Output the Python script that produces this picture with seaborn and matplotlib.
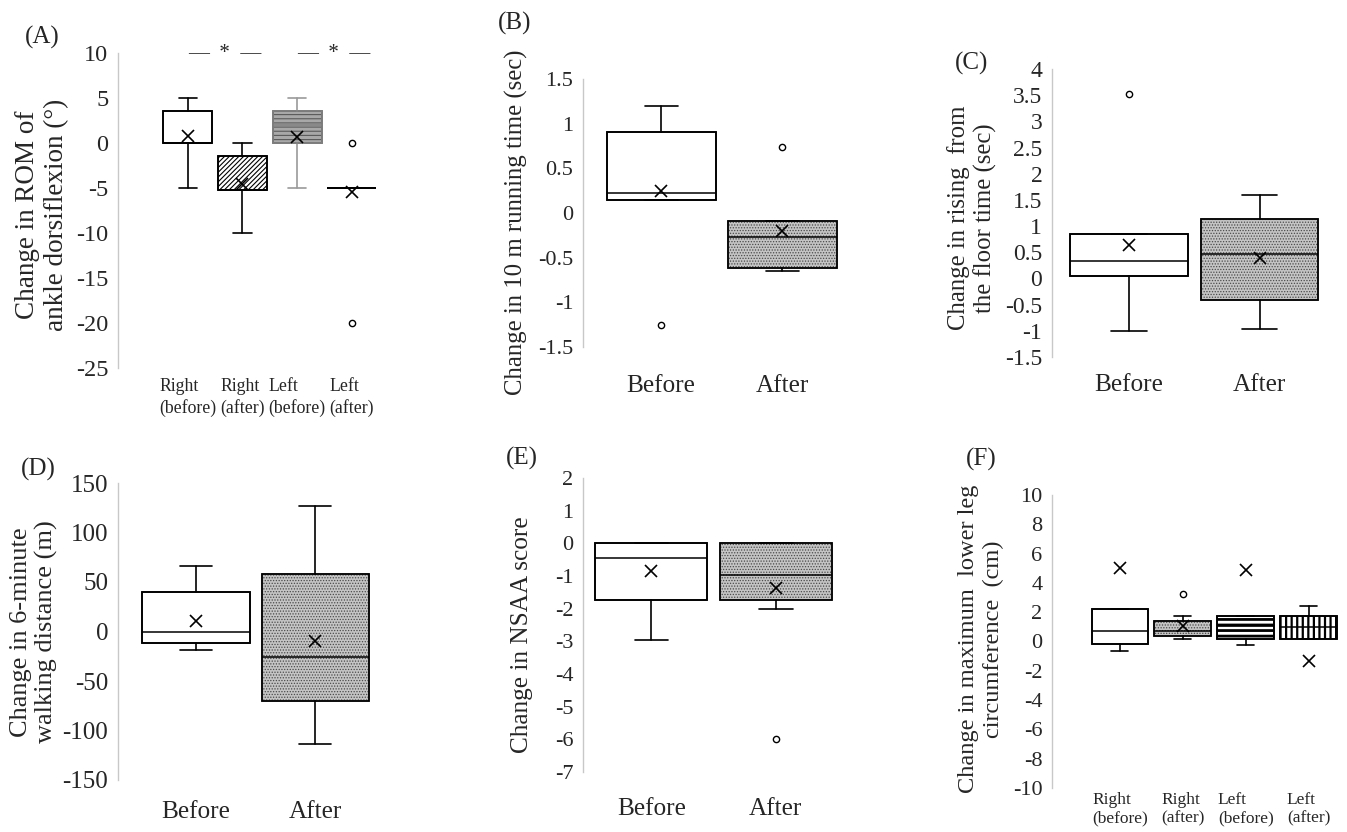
"""
Box plots of change in motor function before / after (panels A-F)
"""
import matplotlib
matplotlib.use('Agg')
import matplotlib.pyplot as plt
import seaborn as sns
import numpy as np
from matplotlib.patches import PathPatch

# ---------------- data ----------------
side_groups = ['Right\n(before)', 'Right\n(after)', 'Left\n(before)', 'Left\n(after)']
period_groups = ['Before', 'After']

# (A) ROM of ankle dorsiflexion
a_whislo = [-5, -10, -5, -5]
a_q1 = [0, -5.2, 0, -5]
a_med = [0, -5.2, 2.0, -5]
a_q3 = [3.6, -1.4, 3.6, -5]
a_whishi = [5, 0, 5, -5]
a_mean = [0.8, -4.6, 0.7, -5.4]
a_fliers = [[], [], [], [0, -20]]

# (B) 10 m running time
b_whislo = [0.14, -0.65]
b_q1 = [0.14, -0.62]
b_med = [0.22, -0.27]
b_q3 = [0.91, -0.09]
b_whishi = [1.2, -0.09]
b_mean = [0.25, -0.2]
b_fliers = [[-1.25], [0.74]]

# (C) rising from the floor time
c_whislo = [-1.0, -0.97]
c_q1 = [0.04, -0.41]
c_med = [0.34, 0.47]
c_q3 = [0.85, 1.14]
c_whishi = [0.85, 1.6]
c_mean = [0.63, 0.39]
c_fliers = [[3.52], []]

# (D) 6-minute walking distance
d_whislo = [-19, -114]
d_q1 = [-12, -70]
d_med = [0, -26]
d_q3 = [40, 58]
d_whishi = [66, 127]
d_mean = [11, -10]
d_fliers = [[], []]

# (E) NSAA score
e_whislo = [-2.95, -2.0]
e_q1 = [-1.72, -1.72]
e_med = [-0.45, -0.97]
e_q3 = [0, 0]
e_whishi = [0, 0]
e_mean = [-0.85, -1.36]
e_fliers = [[], [-6.0]]

# (F) maximum lower leg circumference
f_whislo = [-0.65, 0.17, -0.25, 0.2]
f_q1 = [-0.15, 0.4, 0.2, 0.2]
f_med = [0.75, 0.72, 1.05, 1.0]
f_q3 = [2.25, 1.4, 1.75, 1.75]
f_whishi = [2.25, 1.75, 1.75, 2.45]
f_mean = [5.0, 1.05, 4.9, -1.35]
f_fliers = [[], [3.25], [], []]

# y axis ranges (min, max, step)
a_yaxis = (-25, 10, 5)
b_yaxis = (-1.5, 1.5, 0.5)
c_yaxis = (-1.5, 4, 0.5)
d_yaxis = (-150, 150, 50)
e_yaxis = (-7, 2, 1)
f_yaxis = (-10, 10, 2)

a_label = 'Change in ROM of\nankle dorsiflexion (°)'
b_label = 'Change in 10 m running time (sec)'
c_label = 'Change in rising  from\nthe floor time (sec)'
d_label = 'Change in 6-minute\nwalking distance (m)'
e_label = 'Change in NSAA score'
f_label = 'Change in maximum  lower leg\ncircumference  (cm)'

# ---------------- styling ----------------
sns.set_style('white')
plt.rcParams['font.family'] = ['Liberation Serif', 'DejaVu Serif']
plt.rcParams['hatch.linewidth'] = 0.8

W, H = 1347, 832
PLAIN = dict(fc='white', hatch=None, hc='black', ec='black', wc='black')
DOTS = dict(fc='#c4c4c4', hatch='......', hc='#4a4a4a', ec='black', wc='black', hlw=0.6)
DIAG = dict(fc='white', hatch='///////', hc='black', ec='black', wc='black')
GREY_STRIPES = dict(fc='#a8a8a8', hatch='----', hc='#5a5a5a', ec='#808080', wc='#9a9a9a')
BLACK_HLINES = dict(fc='white', hatch='---', hc='black', ec='black', wc='black', hlw=2.0)
BLACK_VLINES = dict(fc='white', hatch='|||', hc='black', ec='black', wc='black', hlw=1.6)


def px_axes(fig, left, top, right, bottom):
    return fig.add_axes([left / W, 1 - bottom / H, (right - left) / W, (bottom - top) / H])


def draw_panel(ax, groups, whislo, q1, med, q3, whishi, mean, fliers, styles,
               yaxis, xlim, capw=0.27, tick_fs=16, cat_fs=18.2, cat_pad=20, cat_ls=1.3):
    stats = []
    for g, lo, a, m, b, hi, mu, fl in zip(groups, whislo, q1, med, q3, whishi, mean, fliers):
        stats.append(dict(label=g, whislo=lo, q1=a, med=m, q3=b, whishi=hi, mean=mu,
                          fliers=np.array(fl, dtype=float)))
    pos = np.arange(1, len(groups) + 1)
    art = ax.bxp(stats, positions=pos, widths=0.9, capwidths=capw,
                 showmeans=True, patch_artist=True,
                 boxprops=dict(linewidth=1.2),
                 whiskerprops=dict(color='black', linewidth=1.2),
                 capprops=dict(color='black', linewidth=1.2),
                 medianprops=dict(color='black', linewidth=1.1),
                 meanprops=dict(marker='x', markeredgecolor='black', markersize=8,
                                markeredgewidth=1.2),
                 flierprops=dict(marker='o', markerfacecolor='white',
                                 markeredgecolor='black', markersize=4.5,
                                 markeredgewidth=1.0))
    for i, (box, st) in enumerate(zip(art['boxes'], styles)):
        box.set_facecolor(st['fc'])
        box.set_edgecolor(st['hc'])
        if st['hatch']:
            box.set_hatch(st['hatch'])
            if hasattr(box, 'set_hatch_linewidth'):
                box.set_hatch_linewidth(st.get('hlw', 0.8))
        ax.add_patch(PathPatch(box.get_path(), fill=False, edgecolor=st['ec'],
                               linewidth=1.2, zorder=box.get_zorder() + 0.05))
        for ln in art['whiskers'][2 * i:2 * i + 2] + art['caps'][2 * i:2 * i + 2]:
            ln.set_color(st['wc'])
        art['medians'][i].set_color(st['ec'])

    lo, hi, step = yaxis
    ticks = np.linspace(lo, hi, int(round((hi - lo) / step)) + 1)
    ax.set_ylim(lo, hi)
    ax.set_yticks(ticks, labels=[f'{t + 0.0:g}' for t in ticks], fontsize=tick_fs)
    ax.set_xlim(*xlim)
    ax.set_xticks(pos, labels=groups, fontsize=cat_fs, linespacing=cat_ls)
    for t in ax.get_xticklabels():
        t.set_multialignment('left')
    ax.tick_params(axis='y', length=0, pad=7)
    ax.tick_params(axis='x', length=0, pad=cat_pad)
    sns.despine(ax=ax, top=True, right=True, bottom=True, left=False)
    ax.spines['left'].set_color('#c8c8c8')
    ax.spines['left'].set_linewidth(1.0)
    ax.set_facecolor('none')
    ax.grid(False)
    return ax


fig = plt.figure(figsize=(W / 100, H / 100), dpi=100)
fig.patch.set_facecolor('white')

# (A)
axA = px_axes(fig, 118, 53, 379, 368)
draw_panel(axA, side_groups, a_whislo, a_q1, a_med, a_q3, a_whishi, a_mean, a_fliers,
           [PLAIN, DIAG, GREY_STRIPES, PLAIN], a_yaxis, (-0.28, 4.5),
           capw=0.33, tick_fs=17.5, cat_fs=12.8, cat_pad=7)
for cx in (1.5, 3.5):
    axA.text(cx + 0.17, a_yaxis[1], '—  *  —', ha='center', va='center', fontsize=15,
             clip_on=False)

# (B)
axB = px_axes(fig, 583, 79, 843, 347)
draw_panel(axB, period_groups, b_whislo, b_q1, b_med, b_q3, b_whishi, b_mean, b_fliers,
           [PLAIN, DOTS], b_yaxis, (0.355, 2.5), cat_pad=20)

# (C)
axC = px_axes(fig, 1052, 69, 1325, 357)
draw_panel(axC, period_groups, c_whislo, c_q1, c_med, c_q3, c_whishi, c_mean, c_fliers,
           [PLAIN, DOTS], c_yaxis, (0.41, 2.5), tick_fs=17, cat_pad=12)

# (D)
axD = px_axes(fig, 118, 483, 375, 780)
draw_panel(axD, period_groups, d_whislo, d_q1, d_med, d_q3, d_whishi, d_mean, d_fliers,
           [PLAIN, DOTS], d_yaxis, (0.345, 2.5), tick_fs=18, cat_pad=15)

# (E)
axE = px_axes(fig, 583, 478, 838, 772)
draw_panel(axE, period_groups, e_whislo, e_q1, e_med, e_q3, e_whishi, e_mean, e_fliers,
           [PLAIN, DOTS], e_yaxis, (0.45, 2.5), cat_pad=19)

# (F)
axF = px_axes(fig, 1052, 495, 1340, 788)
draw_panel(axF, side_groups, f_whislo, f_q1, f_med, f_q3, f_whishi, f_mean, f_fliers,
           [PLAIN, DOTS, BLACK_HLINES, BLACK_VLINES], f_yaxis, (-0.08, 4.5),
           tick_fs=16, cat_fs=12.5, cat_pad=3, cat_ls=1.15)

# y labels and panel letters (pixel positions of the original layout)
ylabel_spec = [((42, 215), a_label, 19.5), ((516, 222), b_label, 17.8),
               ((972, 218), c_label, 17.8), ((34, 632), d_label, 19),
               ((522, 635), e_label, 18.2), ((981, 639), f_label, 17.6)]
for (x, y), txt, fs in ylabel_spec:
    fig.text(x / W, 1 - y / H, txt, rotation=90, ha='center', va='center',
             fontsize=fs, linespacing=1.2, multialignment='center')

for (x, y), txt in zip([(42, 37), (515, 23), (972, 63), (38, 469), (522, 458), (981, 459)],
                       ['(A)', '(B)', '(C)', '(D)', '(E)', '(F)']):
    fig.text(x / W, 1 - y / H, txt, ha='center', va='center', fontsize=18)

fig.savefig('out.png', dpi=100)
plt.close(fig)
